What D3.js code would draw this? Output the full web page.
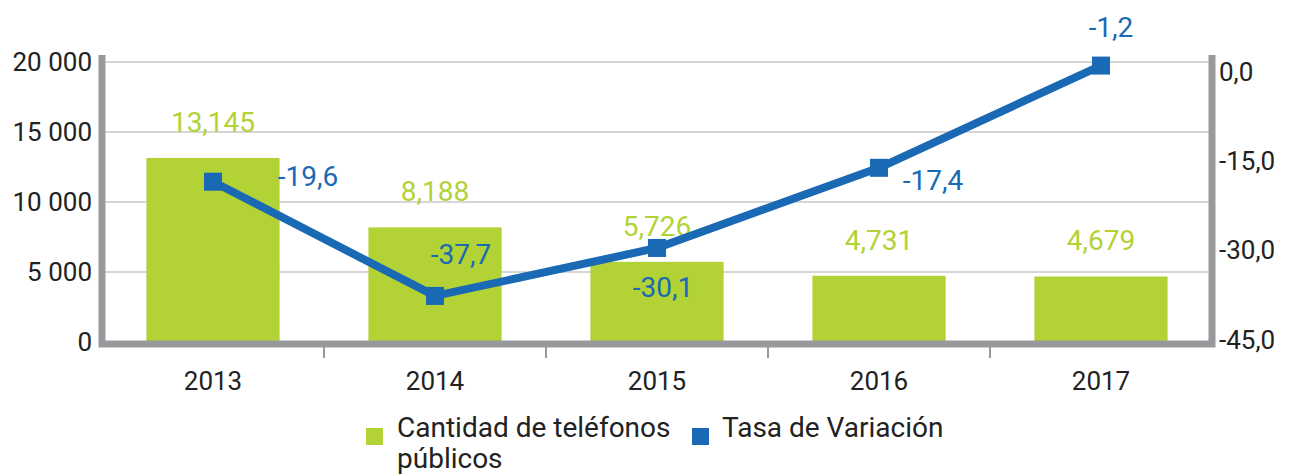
<!DOCTYPE html>
<html>
<head>
<meta charset="utf-8">
<script src="https://cdn.jsdelivr.net/npm/d3@7"></script>
<style>
  body { margin: 0; background: #fff; }
  text { font-family: Roboto, "Noto Sans", sans-serif; }
</style>
</head>
<body>
<svg id="chart" width="1290" height="474"></svg>
<script>
'use strict';

let years = ['2013', '2014', '2015', '2016', '2017']
let phones = [13145, 8188, 5726, 4731, 4679]
let rates = [-19.6, -37.7, -30.1, -17.4, -1.2]
let leftTicks = [0, 5000, 10000, 15000, 20000]
let rightTicks = [0, -15, -30, -45]
let legendNames = ['Cantidad de teléfonos|públicos', 'Tasa de Variación']

let green = '#b2d235'
let blue = '#1a69b4'
let axisGray = '#98999c'

let svg = d3.select('#chart')
let plotLeft = 102, plotRight = 1212, plotTop = 62, plotBottom = 342

let x = d3.scaleBand().domain(years).range([plotLeft, plotRight]).paddingInner(0.4).paddingOuter(0.2)
let y = d3.scaleLinear().domain([0, 20000]).range([plotBottom, plotTop])
let y2 = d3.scaleLinear().domain([-45, 0]).range([plotBottom, 58])
// the printed right-hand labels sit a little off the line scale
let y2Axis = d3.scaleLinear().domain([-45, 0]).range([340, 72])

let fmtThousands = d => d3.format(',')(d).replace(/,/g, ' ')
let fmtLabel = d => d3.format(',')(d)
let fmtRate = d => d3.format('.1f')(d).replace('.', ',').replace('−', '-')

// gridlines
svg.append('g')
    .selectAll('line')
    .data(leftTicks.filter(d => d > 0))
    .enter().append('line')
    .attr('x1', plotLeft).attr('x2', plotRight)
    .attr('y1', d => y(d)).attr('y2', d => y(d))
    .attr('stroke', '#d6d6d6').attr('stroke-width', 2)

// left axis
let leftAxis = svg.append('g')
    .attr('transform', 'translate(' + plotLeft + ',0)')
    .call(d3.axisLeft(y).tickValues(leftTicks).tickFormat(fmtThousands).tickSize(0).tickPadding(10))
leftAxis.select('.domain').remove()
leftAxis.selectAll('text').attr('font-size', 26).attr('fill', '#222')

// right axis
let rightAxis = svg.append('g')
    .attr('transform', 'translate(' + plotRight + ',0)')
    .call(d3.axisRight(y2Axis).tickValues(rightTicks).tickFormat(fmtRate).tickSize(0).tickPadding(7))
rightAxis.select('.domain').remove()
rightAxis.selectAll('text').attr('font-size', 26).attr('fill', '#222')

// bars
svg.append('g')
    .selectAll('rect')
    .data(phones)
    .enter().append('rect')
    .attr('x', (d, i) => x(years[i]))
    .attr('width', x.bandwidth())
    .attr('y', d => y(d))
    .attr('height', d => plotBottom - y(d))
    .attr('fill', green)

// axis frame
svg.append('path')
    .attr('d', 'M' + plotLeft + ',' + (plotTop - 7) + 'V' + (plotBottom + 2) + 'H' + plotRight + 'V' + (plotTop - 7))
    .attr('fill', 'none').attr('stroke', axisGray).attr('stroke-width', 7)

// category separators
let gap = (x.step() - x.bandwidth()) / 2
svg.append('g')
    .selectAll('line')
    .data(years.slice(1))
    .enter().append('line')
    .attr('x1', d => x(d) - gap)
    .attr('x2', d => x(d) - gap)
    .attr('y1', plotBottom + 4).attr('y2', plotBottom + 16)
    .attr('stroke', axisGray).attr('stroke-width', 2)

// year labels
svg.append('g')
    .selectAll('text')
    .data(years)
    .enter().append('text')
    .attr('x', d => x(d) + x.bandwidth() / 2)
    .attr('y', 390)
    .attr('text-anchor', 'middle')
    .attr('font-size', 26).attr('fill', '#222')
    .text(d => d)

// bar labels
svg.append('g')
    .selectAll('text')
    .data(phones)
    .enter().append('text')
    .attr('x', (d, i) => x(years[i]) + x.bandwidth() / 2)
    .attr('y', d => y(d) - 36)
    .attr('dy', '0.35em')
    .attr('text-anchor', 'middle')
    .attr('font-size', 28).attr('fill', green)
    .text(fmtLabel)

// line
let cx = (d, i) => x(years[i]) + x.bandwidth() / 2
let line = d3.line().x(cx).y(d => y2(d))
svg.append('path')
    .datum(rates)
    .attr('d', line)
    .attr('fill', 'none').attr('stroke', blue).attr('stroke-width', 8).attr('stroke-linejoin', 'round')

svg.append('g')
    .selectAll('rect')
    .data(rates)
    .enter().append('rect')
    .attr('x', (d, i) => cx(d, i) - 9)
    .attr('y', d => y2(d) - 9)
    .attr('width', 18).attr('height', 18)
    .attr('fill', blue)

// rate labels: offsets per point
let rateOffsets = [[95, -5], [26, -42], [6, 39], [54, 12], [10, -38]]
svg.append('g')
    .selectAll('text')
    .data(rates)
    .enter().append('text')
    .attr('x', (d, i) => cx(d, i) + rateOffsets[i][0])
    .attr('y', (d, i) => y2(d) + rateOffsets[i][1])
    .attr('dy', '0.35em')
    .attr('text-anchor', 'middle')
    .attr('font-size', 28).attr('fill', blue)
    .text(fmtRate)

// legend
let legend = svg.append('g')
let lg1 = legend.append('g').attr('transform', 'translate(366,428)')
lg1.append('rect').attr('width', 17).attr('height', 17).attr('fill', green)
lg1.selectAll('text')
    .data(legendNames[0].split('|'))
    .enter().append('text')
    .attr('x', 31).attr('y', (d, i) => 9 + i * 31)
    .attr('font-size', 28).attr('fill', '#222')
    .text(d => d)

let lg2 = legend.append('g').attr('transform', 'translate(692,428)')
lg2.append('rect').attr('width', 17).attr('height', 17).attr('fill', blue)
lg2.append('text')
    .attr('x', 30).attr('y', 9)
    .attr('font-size', 28).attr('fill', '#222')
    .text(legendNames[1])
</script>
</body>
</html>
